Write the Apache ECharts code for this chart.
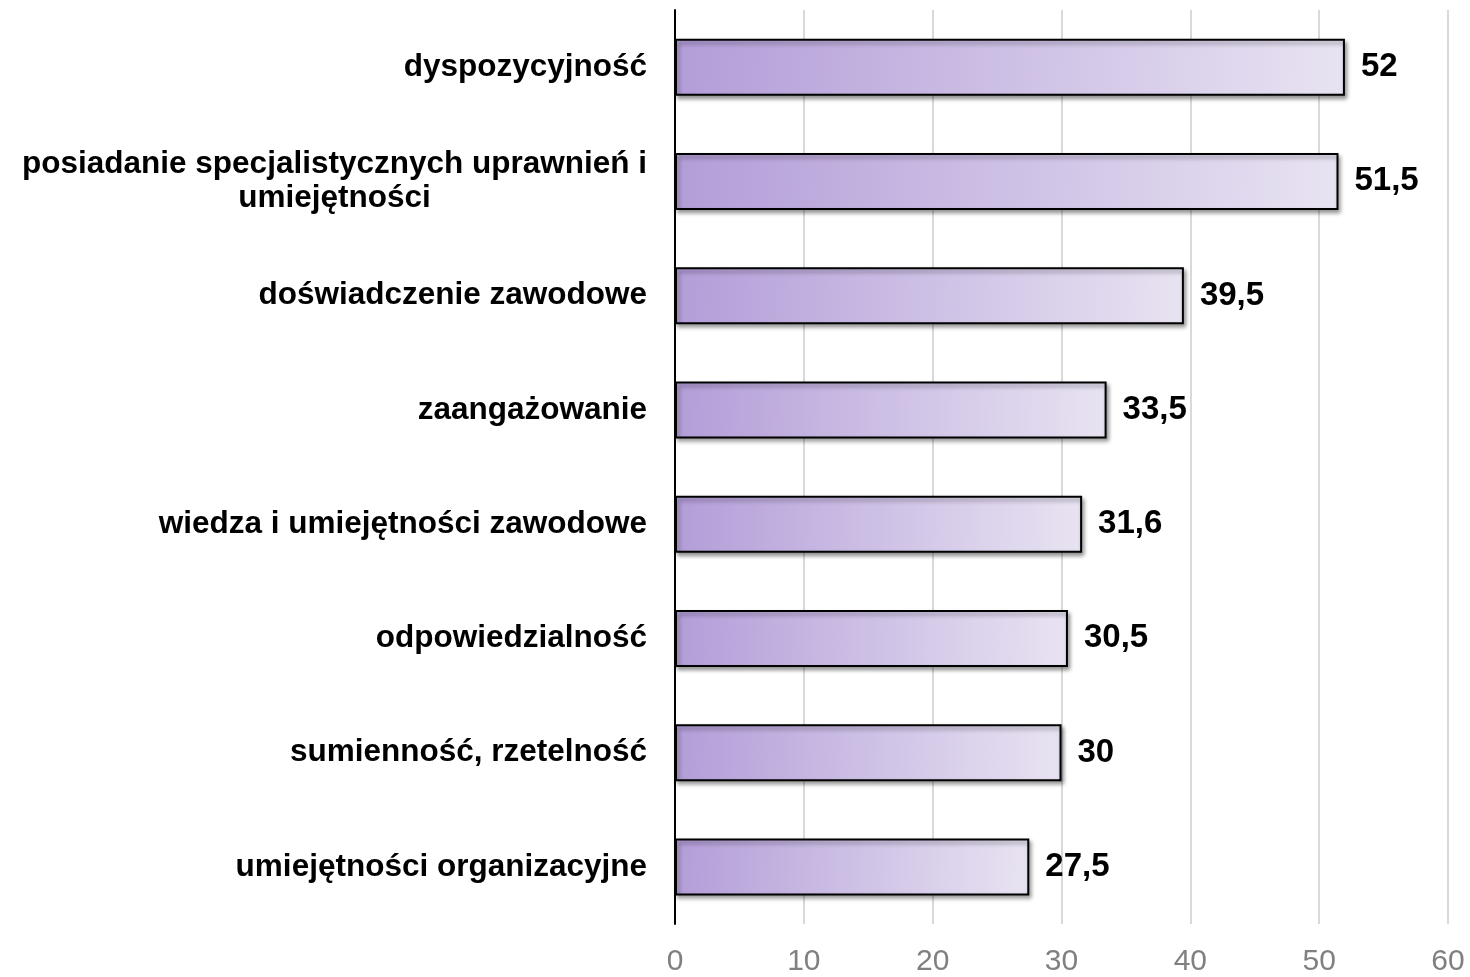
<!DOCTYPE html>
<html>
<head>
<meta charset="utf-8">
<title>Wykres</title>
<script src="https://cdn.jsdelivr.net/npm/echarts@6/dist/echarts.min.js"></script>
<style>
  html, body { margin: 0; padding: 0; background: #fff; }
  #chart { width: 1470px; height: 977px; }
</style>
</head>
<body>
<div id="chart"></div>
<script>
  // kategorie od góry do dołu
  const categories = [
    'dyspozycyjność',
    'posiadanie specjalistycznych uprawnień i\numiejętności',
    'doświadczenie zawodowe',
    'zaangażowanie',
    'wiedza i umiejętności zawodowe',
    'odpowiedzialność',
    'sumienność, rzetelność',
    'umiejętności organizacyjne'
  ];
  const values = [52, 51.5, 39.5, 33.5, 31.6, 30.5, 30, 27.5];
  const xTicks = [0, 10, 20, 30, 40, 50, 60];

  const chart = echarts.init(document.getElementById('chart'));

  const option = {
    animation: false,
    grid: { left: 675, right: 22, top: 10, bottom: 48, containLabel: false },
    xAxis: {
      type: 'value',
      min: xTicks[0],
      max: xTicks[xTicks.length - 1],
      interval: 10,
      axisLine: { show: false },
      axisTick: { show: false },
      splitLine: { show: true, lineStyle: { color: '#d9d9d9', width: 2 } },
      axisLabel: {
        color: '#808080',
        fontFamily: 'Liberation Sans',
        fontSize: 30,
        margin: 23
      }
    },
    yAxis: {
      type: 'category',
      data: categories,
      inverse: true,
      axisLine: { show: true, lineStyle: { color: '#000', width: 2 } },
      axisTick: { show: false },
      axisLabel: {
        margin: 28,
        color: '#000',
        fontFamily: 'Liberation Sans',
        fontWeight: 'bold',
        fontSize: 31.5,
        lineHeight: 34,
        formatter: function (val) {
          if (val.indexOf('\n') < 0) return val;
          return val.split('\n').map(function (s) { return '{c|' + s + '}'; }).join('\n');
        },
        rich: {
          c: {
            align: 'center',
            color: '#000',
            fontFamily: 'Liberation Sans',
            fontWeight: 'bold',
            fontSize: 31.5,
            lineHeight: 34
          }
        }
      }
    },
    series: [{
      type: 'bar',
      data: values,
      barWidth: 57,
      itemStyle: {
        color: new echarts.graphic.LinearGradient(0, 0, 1, 0.15, [
          { offset: 0, color: '#b39dd8' },
          { offset: 1, color: '#e8e3f2' }
        ]),
        borderColor: '#000',
        borderWidth: 2,
        shadowBlur: 4,
        shadowOffsetX: 2,
        shadowOffsetY: 3,
        shadowColor: 'rgba(0,0,0,0.4)'
      },
      label: {
        show: true,
        position: 'right',
        distance: 16,
        color: '#000',
        fontFamily: 'Liberation Sans',
        fontWeight: 'bold',
        fontSize: 33,
        formatter: function (p) { return String(p.value).replace('.', ','); }
      }
    }]
  };

  chart.setOption(option);
</script>
</body>
</html>
